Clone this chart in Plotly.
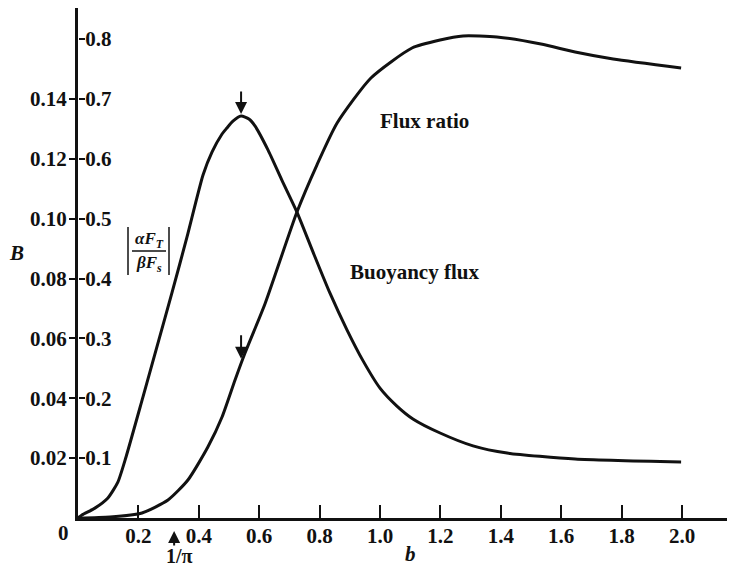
import numpy as np
import plotly.graph_objects as go

# ---------------- data ----------------
b_buoy = [0.0, 0.013, 0.056, 0.099, 0.132, 0.159, 0.215, 0.265, 0.311, 0.361, 0.414,
          0.444, 0.477, 0.493, 0.513, 0.540, 0.566, 0.586, 0.629, 0.675, 0.725, 0.778,
          0.834, 0.891, 0.944, 1.000, 1.056, 1.109, 1.199, 1.308, 1.421, 1.646, 1.997]
B_buoy = [0.0, 0.0010, 0.0033, 0.0067, 0.0120, 0.0204, 0.0404, 0.0585, 0.0752, 0.0939, 0.1146,
          0.1223, 0.1283, 0.1303, 0.1326, 0.1343, 0.1333, 0.1310, 0.1230, 0.1129, 0.1022, 0.0889,
          0.0752, 0.0628, 0.0525, 0.0434, 0.0374, 0.0331, 0.0284, 0.0241, 0.0217, 0.0197, 0.0187]

b_ratio = [0.0, 0.106, 0.212, 0.298, 0.364, 0.430, 0.477, 0.520, 0.553, 0.619, 0.725,
           0.791, 0.858, 0.970, 1.106, 1.199, 1.275, 1.387, 1.533, 1.646, 1.772, 1.997]
flux_ratio = [0.0, 0.0017, 0.0084, 0.0301, 0.0635, 0.1186, 0.1687, 0.2305, 0.2756, 0.3575, 0.5112,
              0.5897, 0.6599, 0.7351, 0.7852, 0.7985, 0.8052, 0.8036, 0.7918, 0.7785, 0.7668, 0.7518]

x_ticks = [0.2, 0.4, 0.6, 0.8, 1.0, 1.2, 1.4, 1.6, 1.8, 2.0]
x_ticklabels = ["0.2", "0.4", "0.6", "0.8", "1.0", "1.2", "1.4", "1.6", "1.8", "2.0"]
B_ticks = [0.02, 0.04, 0.06, 0.08, 0.10, 0.12, 0.14]
B_ticklabels = ["0.02", "0.04", "0.06", "0.08", "0.10", "0.12", "0.14"]
ratio_ticks = [0.1, 0.2, 0.3, 0.4, 0.5, 0.6, 0.7, 0.8]
ratio_ticklabels = ["0.1", "0.2", "0.3", "0.4", "0.5", "0.6", "0.7", "0.8"]

b_arrow = 0.540          # b of maximum buoyancy flux (arrows)
b_inv_pi = 1 / np.pi     # marked on the b axis

# ---------------- layout constants ----------------
# page body has an 8px margin, so the figure is 8px smaller than the window
W, H = 727, 559
ML, MR, MT, MB = 70, 8, 0, 49
XMAX = 2.149
RMAX = 0.852
BMAX = RMAX * 0.2
PW, PH = W - ML - MR, H - MT - MB
X0, Y0 = 78, 518   # plot origin in window pixels

FONT = "Liberation Serif"
INK = "#111111"


def px(xw):
    return (xw - X0) / PW


def py(yw):
    return (Y0 - yw) / PH


fig = go.Figure()
fig.add_trace(go.Scatter(x=b_buoy, y=B_buoy, mode="lines", yaxis="y",
                         line=dict(color=INK, width=3, shape="spline", smoothing=0.6),
                         name="Buoyancy flux", showlegend=False))
fig.add_trace(go.Scatter(x=b_ratio, y=flux_ratio, mode="lines", yaxis="y2",
                         line=dict(color=INK, width=3, shape="spline", smoothing=0.6),
                         name="Flux ratio", showlegend=False))

tickfont = dict(family=FONT, size=21, color=INK, weight="bold")

fig.update_layout(
    width=W, height=H,
    margin=dict(l=ML, r=MR, t=MT, b=MB, pad=0),
    paper_bgcolor="white", plot_bgcolor="white",
    showlegend=False,
    xaxis=dict(range=[0, XMAX], tickvals=x_ticks, ticktext=x_ticklabels,
               ticks="inside", ticklen=13, tickwidth=2, tickcolor=INK,
               showline=True, linewidth=3, linecolor=INK, showgrid=False,
               zeroline=False, tickfont=tickfont, anchor="y",
               ticklabelstandoff=-3),
    yaxis=dict(range=[0, BMAX], tickvals=B_ticks, ticktext=B_ticklabels,
               ticks="outside", ticklen=6, tickwidth=2, tickcolor=INK,
               showline=True, linewidth=3, linecolor=INK, showgrid=False,
               zeroline=False, tickfont=tickfont, side="left", anchor="x",
               ticklabelstandoff=-2),
    yaxis2=dict(range=[0, RMAX], tickvals=ratio_ticks, ticktext=ratio_ticklabels,
                ticks="outside", ticklen=6, tickwidth=2, tickcolor=INK,
                showline=False, showgrid=False, zeroline=False,
                tickfont=tickfont, overlaying="y", side="right",
                anchor="free", position=0, ticklabelstandoff=-4),
)

C = dict(xanchor="center", yanchor="middle", xref="paper", yref="paper", showarrow=False)
ann = []
# arrow at buoyancy flux maximum
B_peak = float(np.interp(b_arrow, b_buoy, B_buoy))
ann.append(dict(x=b_arrow, y=B_peak, xref="x", yref="y", text="", showarrow=True,
                ax=0, ay=-26, arrowhead=2, arrowsize=1.2, arrowwidth=2,
                arrowcolor=INK, standoff=2))
# arrow on flux ratio curve at same b
r_at = float(np.interp(b_arrow, b_ratio, flux_ratio))
ann.append(dict(x=b_arrow, y=r_at, xref="x", yref="y2", text="", showarrow=True,
                ax=0, ay=-30, arrowhead=2, arrowsize=1.2, arrowwidth=2,
                arrowcolor=INK, standoff=5))
# 1/pi marker
ann.append(dict(x=b_inv_pi, y=py(531), xref="x", yref="paper", text="",
                showarrow=True, ax=0, ay=16, arrowhead=2, arrowsize=1.2,
                arrowwidth=2, arrowcolor=INK, standoff=0))
ann.append(dict(C, x=px(179), y=py(556), text="<b>1/π</b>",
                font=dict(family=FONT, size=20, color=INK)))
# curve labels
ann.append(dict(C, x=px(424), y=py(121), text="<b>Flux ratio</b>",
                font=dict(family=FONT, size=21, color=INK)))
ann.append(dict(C, x=px(414), y=py(272), text="<b>Buoyancy flux</b>",
                font=dict(family=FONT, size=21, color=INK)))
# axis titles
ann.append(dict(C, x=px(16), y=py(253), text="<b><i>B</i></b>",
                font=dict(family=FONT, size=21, color=INK)))
ann.append(dict(C, x=px(410), y=py(554), text="<b><i>b</i></b>",
                font=dict(family=FONT, size=21, color=INK)))
ann.append(dict(C, x=px(63), y=py(533), text="<b>0</b>",
                font=dict(family=FONT, size=21, color=INK)))
# fraction label |alpha F_T / beta F_s|
ann.append(dict(C, x=px(149), y=py(240), text="<b><i>αF<sub>T</sub></i></b>",
                font=dict(family=FONT, size=17, color=INK)))
ann.append(dict(C, x=px(149), y=py(264), text="<b><i>βF<sub>s</sub></i></b>",
                font=dict(family=FONT, size=17, color=INK)))
fig.update_layout(annotations=ann)

shapes = [
    dict(type="line", xref="paper", yref="paper", x0=px(132), x1=px(166),
         y0=py(251), y1=py(251), line=dict(color=INK, width=1.5)),
    dict(type="line", xref="paper", yref="paper", x0=px(128), x1=px(128),
         y0=py(227), y1=py(275), line=dict(color=INK, width=1.5)),
    dict(type="line", xref="paper", yref="paper", x0=px(169), x1=px(169),
         y0=py(227), y1=py(275), line=dict(color=INK, width=1.5)),
]
fig.update_layout(shapes=shapes)

fig.write_html("out.html")
